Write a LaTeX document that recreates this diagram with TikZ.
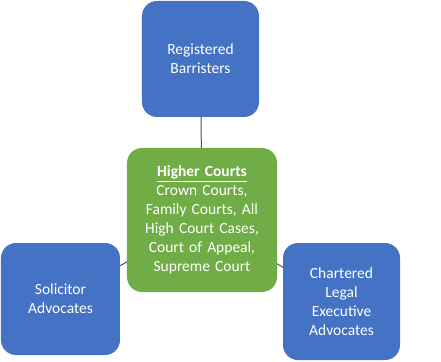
\documentclass[tikz,border=0pt]{standalone}
\usepackage{fontspec}
\setmainfont{Carlito}
\usepackage{tikz}
\usetikzlibrary{shapes}
\usetikzlibrary{positioning}
\usetikzlibrary{backgrounds}
\definecolor{boxblue}{HTML}{4472C4}
\definecolor{boxgreen}{HTML}{70AD47}
\definecolor{linkblue}{HTML}{3B5284}

\begin{document}
\begin{tikzpicture}[x=1pt,y=1pt]
	\tikzstyle{box} = [rectangle, rounded corners=15pt, inner sep=2pt, text centered, align=center, text=white, font=\fontsize{15.5}{18.9}\selectfont]
	\tikzstyle{outer} = [box, fill=boxblue, text width=3.6cm]
	\tikzstyle{court} = [box, fill=boxgreen, minimum width=150pt, minimum height=144pt, text width=4.9cm]
	\tikzstyle{link} = [draw=linkblue, line width=1pt]
	\useasboundingbox (-202, -141) rectangle (239, 220);
	\node (higher)[court] at (0, 0) {\underline{\textbf{Higher Courts}}\\
		Crown Courts,\\
		Family Courts, All\\
		High Court Cases,\\
		Court of Appeal,\\
		Supreme Court};
	\node (barristers)[outer, minimum width=117pt, minimum height=116pt] at (-1.5, 161) {Registered\\ Barristers};
	\node (solicitors)[outer, minimum width=119pt, minimum height=112pt] at (-141.5, -79) {Solicitor\\ Advocates};
	\node (cilex)[outer, minimum width=117pt, minimum height=117pt] at (139.5, -81.5) {Chartered\\ Legal\\ Executive\\ Advocates};
	\begin{scope}[on background layer]
		\draw[link] (barristers.center) -- (higher.center);
		\draw[link] (higher.center) -- (solicitors.center);
		\draw[link] (higher.center) -- (cilex.center);
	\end{scope}
\end{tikzpicture}
\end{document}
